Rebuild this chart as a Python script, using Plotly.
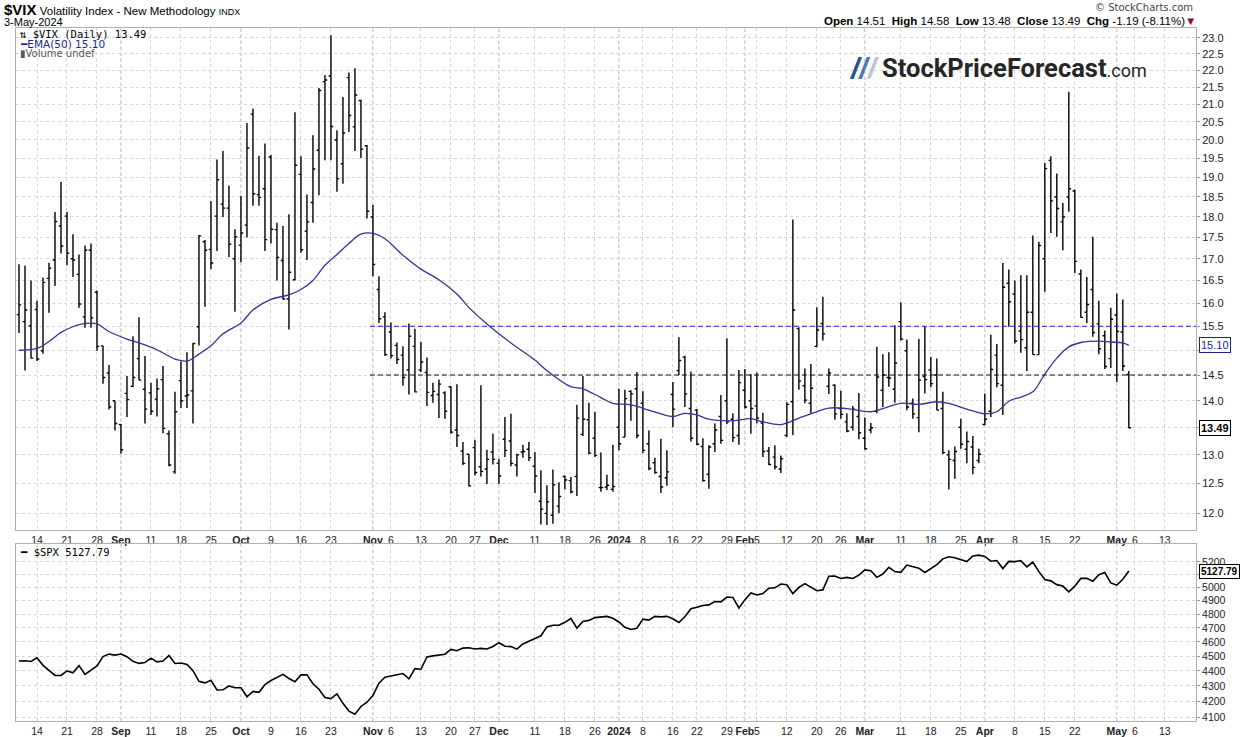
import math
import pandas as pd
import plotly.graph_objects as go
from plotly.subplots import make_subplots

# trading days on the chart (exchange holidays removed), plus two empty weeks on the right
holidays = ["2023-09-04", "2023-11-23", "2023-12-25", "2024-01-01",
            "2024-01-15", "2024-02-19", "2024-03-29"]
days = pd.bdate_range("2023-08-09", "2024-05-17", freq="C", holidays=holidays)

# $VIX daily bars, 9-Aug-2023 .. 3-May-2024
vix_open = [
    15.75, 15.60, 15.51, 15.86, 14.99, 16.55, 16.97, 17.78, 18.02, 17.00,
    16.64, 15.70, 17.20, 16.24, 15.09, 14.54, 14.00, 13.55, 14.14, 14.28,
    14.83, 14.22, 14.15, 14.03, 14.41, 13.38, 12.70, 14.39, 14.09, 14.19,
    15.49, 17.40, 17.22, 18.02, 18.32, 18.22, 17.00, 17.32, 17.80, 20.72,
    18.56, 18.71, 19.54, 17.69, 16.96, 16.09, 16.52, 19.08, 17.65, 18.36,
    19.72, 21.66, 21.83, 20.00, 19.36, 21.78, 20.36, 21.11, 19.84, 18.00,
    16.30, 15.70, 15.38, 15.10, 14.90, 14.60, 15.08, 14.60, 14.55, 14.10,
    14.12, 14.15, 14.27, 13.45, 13.07, 13.01, 13.13, 12.79, 12.75, 13.05,
    12.85, 13.28, 13.25, 12.82, 13.05, 13.10, 12.80, 12.20, 12.00, 11.97,
    12.12, 12.62, 12.55, 12.62, 13.37, 13.64, 13.30, 12.43, 12.44, 12.40,
    13.50, 13.32, 14.18, 14.23, 13.95, 13.20, 12.86, 12.62, 12.60, 14.12,
    14.59, 14.86, 13.85, 13.82, 13.15, 12.66, 13.20, 13.70, 14.00, 13.65,
    13.35, 14.20, 14.00, 13.90, 13.58, 13.07, 12.96, 12.75, 13.35, 13.98,
    15.45, 14.29, 13.95, 15.08, 15.56, 14.28, 14.30, 13.85, 13.60, 13.50,
    13.70, 13.30, 13.45, 13.80, 14.20, 14.45, 14.22, 15.60, 14.99, 13.95,
    13.68, 14.47, 14.60, 14.50, 13.85, 13.00, 12.90, 13.50, 13.10, 13.14,
    12.90, 13.55, 13.80, 14.90, 14.30, 16.44, 16.20, 15.40, 15.05, 15.80,
    14.91, 17.00, 19.45, 18.50, 17.88, 18.50, 18.65, 16.65, 15.80, 16.30,
    15.55, 15.30, 14.83, 15.74, 15.38, 14.51,
]
vix_high = [
    16.87, 16.84, 16.50, 16.05, 16.57, 16.91, 18.12, 18.88, 18.12, 17.58,
    17.10, 17.31, 17.36, 16.28, 15.09, 14.70, 14.00, 13.56, 14.48, 15.29,
    15.69, 14.88, 14.35, 14.43, 14.68, 13.44, 14.17, 14.77, 14.96, 15.15,
    17.56, 17.44, 18.40, 19.47, 19.70, 18.79, 17.70, 18.53, 20.47, 20.87,
    19.57, 19.90, 19.59, 17.86, 17.78, 18.07, 20.77, 19.56, 18.56, 20.13,
    21.47, 21.86, 23.08, 20.27, 21.21, 21.93, 22.06, 21.13, 19.86, 18.30,
    16.60, 15.80, 15.58, 15.16, 15.08, 15.56, 15.45, 15.17, 14.85, 14.35,
    14.41, 14.18, 14.28, 14.32, 13.23, 13.02, 13.27, 14.30, 13.09, 13.38,
    12.93, 13.69, 13.75, 13.02, 13.18, 13.23, 13.05, 12.73, 12.47, 12.74,
    12.52, 12.64, 12.61, 13.92, 14.48, 13.96, 13.79, 13.04, 12.65, 13.18,
    14.23, 14.21, 14.20, 14.56, 14.18, 13.44, 12.95, 13.29, 13.08, 14.36,
    15.27, 14.89, 14.57, 13.84, 13.30, 13.17, 13.57, 14.11, 15.25, 13.76,
    14.60, 14.62, 14.52, 14.55, 13.77, 13.14, 13.17, 12.99, 13.97, 17.94,
    15.48, 14.63, 14.72, 15.91, 16.14, 14.63, 14.32, 14.19, 13.76, 13.90,
    14.15, 13.68, 13.58, 15.07, 14.92, 14.96, 15.52, 16.02, 15.22, 14.04,
    15.23, 15.50, 14.86, 14.83, 14.17, 13.08, 13.15, 13.66, 13.42, 13.34,
    13.11, 14.14, 15.32, 15.13, 16.90, 16.75, 16.50, 16.62, 16.62, 17.55,
    17.40, 19.38, 19.56, 19.10, 18.35, 21.36, 18.69, 16.75, 16.58, 17.52,
    16.05, 15.41, 15.90, 16.21, 16.08, 14.58,
]
vix_low = [
    15.36, 14.59, 14.83, 14.78, 14.93, 15.79, 16.38, 17.12, 16.85, 16.58,
    15.90, 15.47, 15.47, 14.99, 14.33, 13.83, 13.44, 13.02, 13.69, 14.26,
    14.40, 13.57, 13.73, 13.70, 13.39, 12.80, 12.67, 13.86, 13.86, 13.57,
    15.10, 15.92, 16.76, 17.18, 18.00, 17.04, 15.81, 16.92, 17.50, 18.28,
    18.28, 17.18, 17.36, 16.50, 16.08, 15.43, 16.50, 17.14, 16.97, 17.86,
    18.54, 19.45, 19.45, 18.63, 18.84, 20.22, 19.70, 19.51, 17.96, 16.60,
    15.57, 14.88, 14.83, 14.72, 14.29, 14.12, 14.16, 14.56, 13.90, 13.96,
    13.67, 13.66, 13.38, 13.14, 12.82, 12.45, 12.64, 12.62, 12.49, 12.83,
    12.49, 12.96, 12.80, 12.62, 12.95, 12.89, 12.34, 11.82, 11.81, 11.83,
    12.00, 12.40, 12.33, 12.29, 13.34, 13.01, 12.96, 12.36, 12.39, 12.36,
    13.08, 13.32, 13.62, 13.30, 13.03, 12.73, 12.67, 12.34, 12.46, 13.50,
    14.50, 13.88, 13.24, 13.17, 12.53, 12.41, 13.05, 13.20, 13.56, 13.23,
    13.18, 13.85, 13.38, 13.57, 12.96, 12.82, 12.74, 12.68, 13.32, 13.36,
    14.21, 13.95, 13.76, 15.06, 15.20, 14.13, 13.64, 13.66, 13.41, 13.44,
    13.28, 13.09, 13.39, 13.76, 13.88, 14.27, 13.96, 15.20, 13.82, 13.66,
    13.41, 14.14, 14.26, 13.82, 13.01, 12.40, 12.58, 13.11, 12.85, 12.66,
    12.85, 13.54, 13.69, 14.26, 13.73, 15.49, 15.14, 14.95, 14.58, 14.91,
    14.91, 16.25, 17.61, 17.52, 17.20, 18.13, 16.67, 15.68, 15.57, 15.28,
    14.92, 14.62, 14.64, 14.36, 14.58, 13.48,
]
vix_close = [
    15.96, 15.85, 14.84, 14.82, 16.46, 16.78, 17.89, 17.30, 17.13, 16.97,
    15.98, 17.20, 15.68, 15.08, 14.45, 13.88, 13.57, 13.09, 14.02, 14.45,
    14.40, 13.84, 13.80, 14.23, 13.48, 12.82, 13.79, 14.00, 14.11, 15.14,
    17.54, 17.20, 16.90, 18.94, 18.22, 17.34, 17.52, 17.61, 19.78, 18.58,
    18.49, 17.45, 17.70, 17.03, 16.09, 16.69, 19.32, 17.21, 17.88, 19.22,
    21.40, 21.71, 20.37, 18.97, 20.19, 20.68, 21.27, 19.75, 18.14, 16.87,
    15.66, 14.91, 14.89, 14.81, 14.45, 15.29, 14.17, 14.76, 14.16, 14.18,
    14.32, 13.80, 13.41, 13.35, 12.85, 12.46, 12.69, 12.71, 12.92, 12.92,
    12.63, 13.08, 12.85, 13.00, 13.06, 12.95, 12.63, 12.07, 12.19, 12.48,
    12.28, 12.56, 12.36, 13.67, 13.65, 13.03, 12.99, 12.43, 12.47, 12.45,
    13.20, 14.04, 14.13, 13.35, 13.08, 12.76, 12.69, 12.44, 12.70, 13.84,
    14.79, 14.13, 13.30, 13.19, 12.55, 13.14, 13.45, 13.26, 13.60, 13.31,
    14.35, 13.88, 13.85, 13.67, 13.06, 12.83, 12.79, 12.93, 13.93, 15.85,
    14.38, 14.01, 14.24, 15.42, 15.34, 14.54, 13.75, 13.74, 13.43, 13.84,
    13.40, 13.11, 13.49, 14.46, 14.50, 14.44, 14.74, 15.23, 13.88, 13.75,
    14.40, 14.41, 14.33, 13.82, 13.04, 12.92, 13.06, 13.19, 13.24, 12.78,
    13.01, 13.65, 14.61, 14.33, 16.35, 16.03, 15.19, 15.22, 15.80, 14.91,
    17.31, 19.23, 18.40, 18.21, 18.00, 18.71, 16.94, 15.69, 15.97, 15.37,
    15.03, 14.67, 15.65, 15.39, 14.68, 13.49,
]

# $SPX daily closes, same days
spx_close = [
    4467.71, 4468.83, 4464.05, 4489.72, 4437.86, 4404.33, 4370.36, 4369.71, 4399.77, 4387.55,
    4436.01, 4376.31, 4405.71, 4433.31, 4497.63, 4514.87, 4507.66, 4515.77, 4496.83, 4465.48,
    4451.14, 4457.49, 4487.46, 4461.90, 4467.44, 4505.10, 4450.32, 4453.53, 4443.95, 4402.20,
    4330.00, 4320.06, 4337.44, 4273.53, 4274.51, 4299.70, 4288.05, 4288.39, 4229.45, 4263.75,
    4258.19, 4308.50, 4335.66, 4358.24, 4376.95, 4349.61, 4327.78, 4373.63, 4373.20, 4314.60,
    4278.00, 4224.16, 4217.04, 4247.68, 4186.77, 4137.23, 4117.37, 4166.82, 4193.80, 4237.86,
    4317.78, 4358.34, 4365.98, 4378.38, 4382.78, 4347.35, 4415.24, 4411.55, 4495.70, 4502.88,
    4508.24, 4514.02, 4547.38, 4538.19, 4556.62, 4559.34, 4550.43, 4554.89, 4550.58, 4567.80,
    4594.63, 4569.78, 4567.18, 4549.34, 4585.59, 4604.37, 4622.44, 4643.70, 4707.09, 4719.55,
    4719.19, 4740.56, 4768.37, 4698.35, 4746.75, 4754.63, 4774.75, 4781.58, 4783.35, 4769.83,
    4742.83, 4704.81, 4688.68, 4697.24, 4763.54, 4756.50, 4783.45, 4780.24, 4783.83, 4765.98,
    4739.21, 4780.94, 4839.81, 4850.43, 4864.60, 4868.55, 4894.16, 4890.97, 4927.93, 4924.97,
    4845.65, 4906.19, 4958.61, 4942.81, 4954.23, 4995.06, 4997.91, 5026.61, 5021.84, 4953.17,
    5000.62, 5029.73, 5005.57, 4975.51, 4981.80, 5087.03, 5088.80, 5069.53, 5078.18, 5069.76,
    5096.27, 5137.08, 5130.95, 5078.65, 5104.76, 5157.36, 5123.69, 5117.94, 5175.27, 5165.31,
    5150.48, 5117.09, 5149.42, 5178.51, 5224.62, 5241.53, 5234.18, 5218.19, 5203.58, 5248.49,
    5254.35, 5243.77, 5205.81, 5211.49, 5147.21, 5204.34, 5202.39, 5209.91, 5160.64, 5199.06,
    5123.41, 5061.82, 5051.41, 5022.21, 5011.12, 4967.23, 5010.60, 5070.55, 5071.63, 5048.42,
    5099.96, 5116.17, 5035.69, 5018.39, 5064.20, 5127.79,
]

# EMA(50)
ema_dates = [
    "2023-08-09", "2023-08-14", "2023-08-16", "2023-08-18", "2023-08-22", "2023-08-24",
    "2023-08-28", "2023-08-30", "2023-09-05", "2023-09-07", "2023-09-12", "2023-09-15",
    "2023-09-19", "2023-09-21", "2023-09-25", "2023-09-27", "2023-10-02", "2023-10-04",
    "2023-10-09", "2023-10-12", "2023-10-16", "2023-10-18", "2023-10-20", "2023-10-24",
    "2023-10-26", "2023-10-30", "2023-11-01", "2023-11-03", "2023-11-08", "2023-11-13",
    "2023-11-16", "2023-11-21", "2023-11-24", "2023-11-29", "2023-12-05", "2023-12-11",
    "2023-12-13", "2023-12-19", "2023-12-21", "2023-12-27", "2023-12-29", "2024-01-04",
    "2024-01-09", "2024-01-11", "2024-01-16", "2024-01-18", "2024-01-22", "2024-01-24",
    "2024-01-30", "2024-02-02", "2024-02-06", "2024-02-09", "2024-02-14", "2024-02-16",
    "2024-02-22", "2024-02-27", "2024-03-04", "2024-03-06", "2024-03-11", "2024-03-14",
    "2024-03-19", "2024-03-21", "2024-03-26", "2024-04-01", "2024-04-03", "2024-04-05",
    "2024-04-09", "2024-04-11", "2024-04-15", "2024-04-17", "2024-04-19", "2024-04-23",
    "2024-04-26", "2024-04-30", "2024-05-02", "2024-05-03",
]
ema_vals = [
    15.00, 15.04, 15.18, 15.37, 15.49, 15.56,
    15.55, 15.39, 15.23, 15.15, 15.01, 14.82,
    14.78, 14.92, 15.09, 15.34, 15.57, 15.85,
    16.08, 16.18, 16.30, 16.50, 16.85, 17.10,
    17.36, 17.58, 17.60, 17.47, 17.08, 16.76,
    16.52, 16.20, 15.90, 15.55, 15.15, 14.80,
    14.59, 14.27, 14.23, 14.06, 13.95, 13.92,
    13.82, 13.75, 13.70, 13.76, 13.73, 13.65,
    13.62, 13.66, 13.60, 13.55, 13.67, 13.75,
    13.86, 13.85, 13.79, 13.85, 13.95, 13.93,
    13.98, 13.95, 13.84, 13.75, 13.79, 13.99,
    14.07, 14.17, 14.52, 14.84, 15.07, 15.16,
    15.19, 15.17, 15.15, 15.10,
]

# horizontal levels drawn from 1-Nov-2023
level_start = "2023-11-01"
level_blue = 15.5
level_black = 14.5

tick_dates = [
    "2023-08-14", "2023-08-21", "2023-08-28", "2023-09-01", "2023-09-11", "2023-09-18",
    "2023-09-25", "2023-10-02", "2023-10-09", "2023-10-16", "2023-10-23", "2023-11-01",
    "2023-11-06", "2023-11-13", "2023-11-20", "2023-11-27", "2023-12-01", "2023-12-11",
    "2023-12-18", "2023-12-26", "2024-01-02", "2024-01-08", "2024-01-16", "2024-01-22",
    "2024-01-29", "2024-02-01", "2024-02-05", "2024-02-12", "2024-02-20", "2024-02-26",
    "2024-03-01", "2024-03-11", "2024-03-18", "2024-03-25", "2024-04-01", "2024-04-08",
    "2024-04-15", "2024-04-22", "2024-05-01", "2024-05-06", "2024-05-13",
]
tick_labels = [
    "14", "21", "28", "<b>Sep</b>", "11", "18", "25", "<b>Oct</b>", "9", "16", "23",
    "<b>Nov</b>", "6", "13", "20", "27", "<b>Dec</b>", "11", "18", "26", "<b>2024</b>",
    "8", "16", "22", "29", "<b>Feb</b>", "5", "12", "20", "26", "<b>Mar</b>", "11", "18",
    "25", "<b>Apr</b>", "8", "15", "22", "<b>May</b>", "6", "13",
]
vix_ticks = [12.0, 12.5, 13.0, 13.5, 14.0, 14.5, 15.0, 15.5, 16.0, 16.5, 17.0, 17.5,
             18.0, 18.5, 19.0, 19.5, 20.0, 20.5, 21.0, 21.5, 22.0, 22.5, 23.0]
spx_ticks = [4100, 4200, 4300, 4400, 4500, 4600, 4700, 4800, 4900, 5000, 5100, 5200]
# tick labels that sit under the last-value boxes are not printed
vix_hidden = [13.5, 15.0]
spx_hidden = [5100]

n = len(vix_close)
assert n == len(vix_open) == len(vix_high) == len(vix_low) == len(spx_close)
assert len(ema_dates) == len(ema_vals)
pos = list(range(n))


def day_pos(d):
    return days.get_loc(pd.Timestamp(d))


tick_pos = [day_pos(d) for d in tick_dates]
ema_pos = [day_pos(d) for d in ema_dates]
month_pos = [p for p, t in zip(tick_pos, tick_labels) if t.startswith("<b>")]
x_range = [-0.5, 196.2]

# pixel helpers for the layout (plot area 16..1196 x 28..721)
L, R, T, B = 16, 1196, 28, 721


def px(x):
    return (x - L) / (R - L)


def py(y):
    return (B - y) / (B - T)


fig = make_subplots(rows=2, cols=1, shared_xaxes=True, vertical_spacing=0.02)

fig.add_trace(go.Ohlc(
    x=pos, open=vix_open, high=vix_high, low=vix_low, close=vix_close,
    increasing_line_color="black", decreasing_line_color="black",
    line_width=1.4, tickwidth=0.38, hoverinfo="skip",
), row=1, col=1)

fig.add_trace(go.Scatter(
    x=ema_pos, y=ema_vals, mode="lines",
    line=dict(color="#34349a", width=1.3, shape="spline"), hoverinfo="skip",
), row=1, col=1)

lvl_x = [day_pos(level_start) - 0.5, x_range[1]]
fig.add_trace(go.Scatter(
    x=lvl_x, y=[level_blue, level_blue], mode="lines",
    line=dict(color="#1c1cf0", width=1.1, dash="5px,3px"), hoverinfo="skip",
), row=1, col=1)
fig.add_trace(go.Scatter(
    x=lvl_x, y=[level_black, level_black], mode="lines",
    line=dict(color="#111111", width=1.1, dash="5px,3px"), hoverinfo="skip",
), row=1, col=1)

fig.add_trace(go.Scatter(
    x=pos, y=spx_close, mode="lines",
    line=dict(color="black", width=1.6), hoverinfo="skip",
), row=2, col=1)

grid = dict(showgrid=True, gridcolor="#d6d6d6", griddash="dot", gridwidth=1,
            showline=True, linecolor="#b0b0b0", linewidth=1, mirror=True, zeroline=False)

fig.update_xaxes(range=x_range, tickmode="array", tickvals=tick_pos, ticktext=tick_labels,
                 tickangle=0, ticks="", tickfont=dict(size=10.5, color="#222"),
                 rangeslider=dict(visible=False), **grid)
fig.update_xaxes(showticklabels=True, row=1, col=1)

fig.update_yaxes(type="log", range=[math.log10(11.73), math.log10(23.31)], side="right",
                 tickmode="array", tickvals=vix_ticks,
                 ticktext=["" if v in vix_hidden else f"{v:.1f}" for v in vix_ticks],
                 ticks="outside", ticklen=3, tickcolor="#999", tickfont=dict(size=11, color="#222"),
                 automargin=False, domain=[py(530), 1.0], row=1, col=1, **grid)
fig.update_yaxes(type="log", range=[math.log10(4075), math.log10(5345)], side="right",
                 tickmode="array", tickvals=spx_ticks,
                 ticktext=["" if v in spx_hidden else str(v) for v in spx_ticks],
                 ticks="outside", ticklen=3, tickcolor="#999", tickfont=dict(size=10.5, color="#222"),
                 automargin=False, domain=[0.0, py(544)], row=2, col=1, **grid)

# slightly darker dotted grid lines at month starts
for p in month_pos:
    for yref in ("y domain", "y2 domain"):
        fig.add_shape(type="line", xref="x", yref=yref, x0=p, x1=p, y0=0, y1=1,
                      line=dict(color="#b8b8b8", width=1, dash="dot"), layer="below")

ann = []


def note(text, x, y, anchor="left", size=11, color="#111", family="Liberation Sans", **kw):
    ann.append(dict(text=text, x=px(x), y=py(y), xref="paper", yref="paper",
                    xanchor=anchor, yanchor="middle", showarrow=False,
                    font=dict(size=size, color=color, family=family), **kw))


# header
note('<b><span style="font-size:15px">$VIX</span></b> Volatility Index - New Methodology '
     '<span style="font-size:9px">INDX</span>', 2, 9, size=11.5, color="#000")
note("3-May-2024", 2, 22, size=11, color="#000")
note("© StockCharts.com", 1195, 8, anchor="right", size=10, color="#444", family="DejaVu Sans")
note('<b>Open</b> 14.51  <b>High</b> 14.58  <b>Low</b> 13.48  <b>Close</b> 13.49  '
     '<b>Chg</b> -1.19 (-8.11%)<span style="color:#8b1020">▼</span>',
     1198, 21, anchor="right", size=11.5, color="#000")

# in-panel legends
note("⇅ $VIX (Daily) 13.49", 18, 34, size=10.5, color="#000", family="DejaVu Sans Mono")
note("━EMA(50) 15.10", 18, 44, size=10.5, color="#1f1f99", family="DejaVu Sans")
note("▮Volume undef", 18, 54, size=10, color="#555", family="DejaVu Sans")
note("━ $SPX 5127.79", 18, 552, size=10.5, color="#000", family="DejaVu Sans Mono")

# watermark logo
note('<b><i><span style="color:#24508f">/</span><span style="color:#5079b2">/</span>'
     '<span style="color:#b9c5d3">/</span></i></b>', 864, 68, anchor="center", size=30)
note('<b>StockPriceForecast</b><span style="font-size:18px">.com</span>', 880, 68,
     size=25.5, color="#262626", family="Roboto")

# last-value boxes on the right axes
for val, yref, txt, col, fs in [(ema_vals[-1], "y", f"{ema_vals[-1]:.2f}", "#1f1f99", 11),
                                (vix_close[-1], "y", f"<b>{vix_close[-1]:.2f}</b>", "#000", 11),
                                (spx_close[-1], "y2", f"<b>{spx_close[-1]:.2f}</b>", "#000", 10)]:
    ann.append(dict(text=txt, x=1.0, xref="paper", y=math.log10(val), yref=yref,
                    xanchor="left", yanchor="middle", xshift=3, showarrow=False,
                    font=dict(size=fs, color=col, family="Liberation Sans"),
                    bgcolor="white", bordercolor=col, borderwidth=1, borderpad=1))

fig.update_layout(
    width=1240, height=737,
    margin=dict(l=L, r=1240 - R, t=T, b=737 - B, autoexpand=False),
    paper_bgcolor="white", plot_bgcolor="white",
    showlegend=False,
    font=dict(family="Liberation Sans", size=11, color="#222"),
    annotations=ann,
)

# drop the page's default body margin so the figure sits at the window's top-left corner
fig.write_html("out.html", config={"displayModeBar": False},
               post_script="document.body.style.margin='0';document.body.style.overflow='hidden';")
